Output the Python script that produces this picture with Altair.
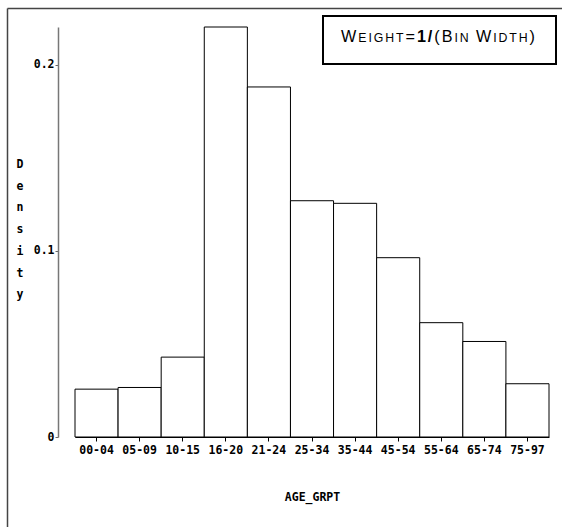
import altair as alt
import pandas as pd

# ---- data ----
age_groups = ["00-04", "05-09", "10-15", "16-20", "21-24", "25-34",
              "35-44", "45-54", "55-64", "65-74", "75-97"]
density = [0.0257, 0.0266, 0.0429, 0.2202, 0.188, 0.1269,
           0.1255, 0.0963, 0.0614, 0.0513, 0.0286]
y_ticks = [0, 0.1, 0.2]
y_title_letters = ["D", "e", "n", "s", "i", "t", "y"]
x_title = "AGE_GRPT"
# inset text as small-caps letters: (char, capital size?, bold?)
inset_chars = [("W", 1, 0), ("E", 0, 0), ("I", 0, 0), ("G", 0, 0), ("H", 0, 0), ("T", 0, 0),
               ("=", 1, 0), ("1", 1, 1), ("/", 1, 1), ("(", 1, 0),
               ("B", 1, 0), ("I", 0, 0), ("N", 0, 0), (" ", 0, 0),
               ("W", 1, 0), ("I", 0, 0), ("D", 0, 0), ("T", 0, 0), ("H", 0, 0), (")", 1, 0)]

# ---- layout (pixels) ----
PAD_L, PAD_T = 75, 27
W, H = 474, 410
MONO = "DejaVu Sans Mono"
SANS = "Liberation Sans"
BIG, SMALL = 16.2, 12.3
TEXT_LEFT, TEXT_RIGHT, TEXT_BASE = 341, 535, 41.7
# Arial/Liberation Sans advance widths (per 1000 em)
ADV = {"W": 944, "E": 667, "I": 278, "G": 778, "H": 722, "T": 611, "=": 584,
       "1": 556, "/": 278, "(": 333, "B": 667, "N": 722, " ": 278, "D": 722, ")": 333}

df = pd.DataFrame({"age": age_groups, "density": density})
one = pd.DataFrame({"k": [0]})

bars = alt.Chart(df).mark_bar(fill="white", stroke="black", strokeWidth=1).encode(
    x=alt.X("age:N", sort=age_groups,
            scale=alt.Scale(paddingInner=0, paddingOuter=0),
            axis=alt.Axis(title=x_title, labelAngle=0, tickSize=4, tickColor="black",
                          domainColor="black", labelPadding=3,
                          labelFont=MONO, labelFontSize=11.5, labelFontWeight="bold",
                          labelColor="black",
                          titleFont=MONO, titleFontSize=11.5, titleFontWeight="bold",
                          titleColor="black", titleBaseline="top", titleY=54)),
    y=alt.Y("density:Q",
            scale=alt.Scale(domain=[0, 0.2202], nice=False, zero=True),
            axis=alt.Axis(values=y_ticks, title=None, grid=False, offset=17,
                          tickSize=3, tickColor="#666", domainColor="#777",
                          domainWidth=1.5, labelPadding=1,
                          labelExpr="datum.value == 0 ? '0' : format(datum.value, '.1f')",
                          labelFont=MONO, labelFontSize=11.5, labelFontWeight="bold",
                          labelColor="black")),
)

ytitle = alt.Chart(one).mark_text(
    font=MONO, fontSize=11.5, fontWeight="bold", lineHeight=21.7,
    align="center", baseline="middle", color="black"
).encode(x=alt.value(20 - PAD_L), y=alt.value(165 - PAD_T),
         text=alt.value(y_title_letters))

box = alt.Chart(one).mark_rect(fill="white", stroke="black", strokeWidth=2).encode(
    x=alt.value(323 - PAD_L), x2=alt.value(556 - PAD_L),
    y=alt.value(16 - PAD_T), y2=alt.value(64 - PAD_T))

# lay the inset letters out with even tracking over the measured span
sizes = [BIG if cap else SMALL for _, cap, _ in inset_chars]
widths = [ADV[c] * s / 1000 for (c, _, _), s in zip(inset_chars, sizes)]
extra = (TEXT_RIGHT - TEXT_LEFT - sum(widths)) / (len(inset_chars) - 1)
letters = []
pos = TEXT_LEFT
for (c, cap, bold), s, w in zip(inset_chars, sizes, widths):
    if c != " ":
        letters.append(
            alt.Chart(one).mark_text(
                font=SANS, fontSize=s, fontWeight="bold" if bold else "normal",
                align="left", baseline="alphabetic", color="black"
            ).encode(x=alt.value(pos - PAD_L), y=alt.value(TEXT_BASE - PAD_T),
                     text=alt.value(c))
        )
    pos += w + extra

frame_left = alt.Chart(one).mark_rule(color="#444", strokeWidth=1.5).encode(
    x=alt.value(7.5 - PAD_L), y=alt.value(8.5 - PAD_T), y2=alt.value(700))
frame_top = alt.Chart(one).mark_rule(color="#444", strokeWidth=1.5).encode(
    x=alt.value(7.5 - PAD_L), x2=alt.value(700), y=alt.value(8.5 - PAD_T))

chart = alt.layer(frame_left, frame_top, bars, ytitle, box, *letters).properties(
    width=W, height=H,
    autosize=alt.AutoSizeParams(type="none"),
    padding={"left": PAD_L, "top": PAD_T, "right": 562 - PAD_L - W, "bottom": 527 - PAD_T - H},
    background="white",
).configure_view(strokeWidth=0)

chart.save("out.html", embed_options={"renderer": "svg", "actions": False})
